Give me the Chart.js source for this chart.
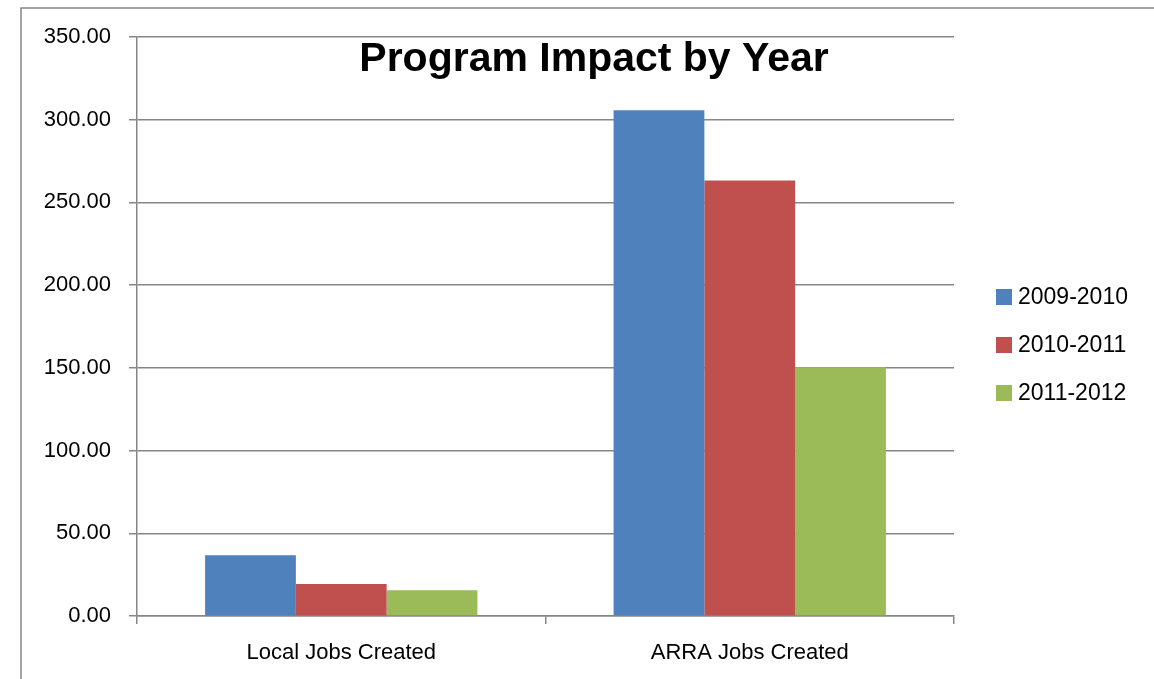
<!DOCTYPE html>
<html>
<head>
<meta charset="utf-8">
<script src="https://cdn.jsdelivr.net/npm/chart.js@4"></script>
<style>
  html, body { margin: 0; padding: 0; background: #fff; }
  #wrap { width: 1154px; height: 679px; position: relative; }
</style>
</head>
<body>
<div id="wrap"><canvas id="chart"></canvas></div>
<script>
// chart data
const categories = ['Local Jobs Created', 'ARRA Jobs Created'];
const seriesNames = ['2009-2010', '2010-2011', '2011-2012'];
const seriesColors = ['#4F81BD', '#C0504D', '#9BBB59'];
const values2009 = [36.7, 305.7];
const values2010 = [19.3, 263.2];
const values2011 = [15.5, 150.4];
const yTicks = [0, 50, 100, 150, 200, 250, 300, 350];

const FONT = "'Liberation Sans', Arial, sans-serif";
const GRID = '#868686';

// outer frame, title and the legend on the right
const decorations = {
    id: 'decorations',
    afterDraw(chart) {
        const ctx = chart.ctx;
        const area = chart.chartArea;
        ctx.save();
        ctx.strokeStyle = GRID;
        ctx.lineWidth = 1.5;
        ctx.beginPath();
        ctx.moveTo(21, chart.height + 2);
        ctx.lineTo(21, 8);
        ctx.lineTo(chart.width + 2, 8);
        ctx.stroke();

        ctx.fillStyle = '#000';
        ctx.font = 'bold 41px ' + FONT;
        ctx.textAlign = 'center';
        ctx.textBaseline = 'middle';
        ctx.fillText('Program Impact by Year', 594, 60);

        ctx.font = '23px ' + FONT;
        ctx.textAlign = 'left';
        chart.data.datasets.forEach((ds, i) => {
            const y = 297 + i * 48;
            ctx.fillStyle = ds.backgroundColor;
            ctx.fillRect(area.right + 42, y - 8, 16, 16);
            ctx.fillStyle = '#000';
            ctx.fillText(ds.label, area.right + 64, y + 1);
        });
        ctx.restore();
    }
};

const datasets = [values2009, values2010, values2011].map((vals, i) => ({
    label: seriesNames[i],
    data: vals,
    backgroundColor: seriesColors[i],
    borderWidth: 0,
    barPercentage: 1,
    categoryPercentage: 3 / 4.5
}));

new Chart(document.getElementById('chart'), {
    type: 'bar',
    data: { labels: categories, datasets: datasets },
    options: {
        responsive: true,
        maintainAspectRatio: false,
        animation: false,
        layout: { padding: { left: 0, right: 200, top: 37, bottom: 0 } },
        plugins: {
            legend: { display: false },
            title: { display: false },
            tooltip: { enabled: false }
        },
        scales: {
            x: {
                grid: { display: true, drawOnChartArea: false, drawTicks: true, tickLength: 8, color: GRID, lineWidth: 1.5, offset: true },
                border: { display: true, color: GRID, width: 1.5 },
                ticks: { color: '#000', font: { family: FONT, size: 22 }, padding: 16, maxRotation: 0 },
                afterFit: scale => { scale.height = 63; }
            },
            y: {
                min: 0,
                max: 350,
                afterBuildTicks: scale => { scale.ticks = yTicks.map(v => ({ value: v })); },
                grid: { color: GRID, lineWidth: 1.5, drawTicks: true, tickLength: 8 },
                border: { display: true, color: GRID, width: 1.5 },
                ticks: { color: '#000', font: { family: FONT, size: 22 }, padding: 18, callback: v => v.toFixed(2) },
                afterFit: scale => { scale.width = 137; }
            }
        }
    },
    plugins: [decorations]
});
</script>
</body>
</html>
